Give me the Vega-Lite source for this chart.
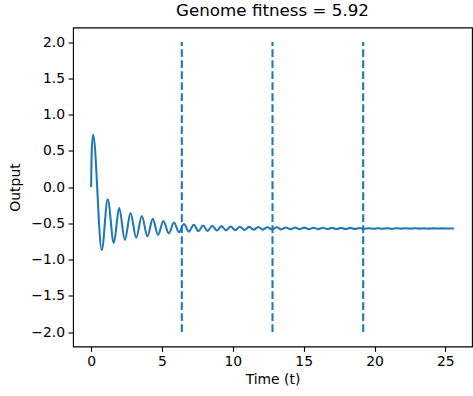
{
  "$schema": "https://vega.github.io/schema/vega-lite/v6.json",
  "autosize": "none",
  "width": 399,
  "height": 319,
  "padding": {"left": 73, "top": 27.5, "right": 1, "bottom": 49.5},
  "background": "white",
  "config": {
    "font": "DejaVu Sans",
    "view": {"stroke": "black", "strokeWidth": 1.1},
    "axis": {
      "domain": false,
      "grid": false,
      "tickColor": "black",
      "tickSize": 4.9,
      "tickWidth": 1.1,
      "labelColor": "black",
      "labelFont": "DejaVu Sans",
      "labelFontSize": 13.9,
      "labelPadding": 3.5,
      "labelOverlap": false,
      "labelFlush": false,
      "titleFont": "DejaVu Sans",
      "titleFontSize": 13.9,
      "titleFontWeight": "normal",
      "titleColor": "black"
    }
  },
  "title": {
    "text": "Genome fitness = 5.92",
    "font": "DejaVu Sans",
    "fontSize": 16.7,
    "fontWeight": "normal",
    "color": "black",
    "offset": 8,
    "anchor": "middle"
  },
  "datasets": {
    "series": [
      {"t": 0, "y": 0},
      {"t": 0.04, "y": 0.48},
      {"t": 0.14, "y": 0.72},
      {"t": 0.75, "y": -0.87},
      {"t": 1.17, "y": -0.17},
      {"t": 1.6, "y": -0.77},
      {"t": 1.98, "y": -0.29},
      {"t": 2.38, "y": -0.73},
      {"t": 2.78, "y": -0.36},
      {"t": 3.18, "y": -0.70},
      {"t": 3.58, "y": -0.40},
      {"t": 3.97, "y": -0.68},
      {"t": 4.35, "y": -0.44},
      {"t": 4.72, "y": -0.66},
      {"t": 5.1, "y": -0.47},
      {"t": 5.48, "y": -0.64},
      {"t": 5.85, "y": -0.49},
      {"t": 6.2, "y": -0.625},
      {"t": 6.55, "y": -0.51},
      {"t": 6.9, "y": -0.615},
      {"t": 7.25, "y": -0.52},
      {"t": 7.58, "y": -0.61},
      {"t": 7.9, "y": -0.53},
      {"t": 8.22, "y": -0.605},
      {"t": 8.55, "y": -0.535},
      {"t": 8.87, "y": -0.60},
      {"t": 9.2, "y": -0.54},
      {"t": 9.52, "y": -0.598},
      {"t": 9.85, "y": -0.545},
      {"t": 10.17, "y": -0.595},
      {"t": 10.5, "y": -0.548},
      {"t": 10.82, "y": -0.592},
      {"t": 11.15, "y": -0.55},
      {"t": 11.47, "y": -0.59},
      {"t": 11.8, "y": -0.552},
      {"t": 12.12, "y": -0.588},
      {"t": 12.45, "y": -0.554},
      {"t": 12.77, "y": -0.586},
      {"t": 13.1, "y": -0.556},
      {"t": 13.42, "y": -0.585},
      {"t": 13.75, "y": -0.558},
      {"t": 14.07, "y": -0.584},
      {"t": 14.4, "y": -0.559},
      {"t": 14.72, "y": -0.583},
      {"t": 15.05, "y": -0.56},
      {"t": 15.37, "y": -0.582},
      {"t": 15.7, "y": -0.561},
      {"t": 16.02, "y": -0.581},
      {"t": 16.35, "y": -0.562},
      {"t": 16.67, "y": -0.58},
      {"t": 17.0, "y": -0.563},
      {"t": 17.32, "y": -0.58},
      {"t": 17.65, "y": -0.564},
      {"t": 17.97, "y": -0.579},
      {"t": 18.3, "y": -0.564},
      {"t": 18.62, "y": -0.579},
      {"t": 18.95, "y": -0.565},
      {"t": 19.27, "y": -0.578},
      {"t": 19.6, "y": -0.568},
      {"t": 19.92, "y": -0.576},
      {"t": 20.25, "y": -0.569},
      {"t": 20.57, "y": -0.575},
      {"t": 20.9, "y": -0.569},
      {"t": 21.22, "y": -0.575},
      {"t": 21.55, "y": -0.57},
      {"t": 21.87, "y": -0.574},
      {"t": 22.2, "y": -0.57},
      {"t": 22.52, "y": -0.574},
      {"t": 22.85, "y": -0.57},
      {"t": 23.17, "y": -0.574},
      {"t": 23.5, "y": -0.571},
      {"t": 23.82, "y": -0.574},
      {"t": 24.15, "y": -0.571},
      {"t": 24.47, "y": -0.573},
      {"t": 24.8, "y": -0.571},
      {"t": 25.12, "y": -0.573},
      {"t": 25.45, "y": -0.572},
      {"t": 25.6, "y": -0.572}
    ],
    "vlines": [
      {"t": 6.4, "y1": -2, "y2": 2},
      {"t": 12.8, "y1": -2, "y2": 2},
      {"t": 19.2, "y1": -2, "y2": 2}
    ]
  },
  "layer": [
    {
      "data": {"name": "series"},
      "mark": {"type": "line", "color": "#1f77b4", "strokeWidth": 2.08, "interpolate": "monotone", "clip": true},
      "encoding": {
        "x": {
          "field": "t", "type": "quantitative",
          "scale": {"domain": [-1.28, 26.88], "nice": false, "zero": false},
          "axis": {"title": "Time (t)", "values": [0, 5, 10, 15, 20, 25], "format": "d", "titlePadding": 4}
        },
        "y": {
          "field": "y", "type": "quantitative",
          "scale": {"domain": [-2.2, 2.2], "nice": false, "zero": false},
          "axis": {"title": "Output", "values": [-2, -1.5, -1, -0.5, 0, 0.5, 1, 1.5, 2], "format": ".1f", "titlePadding": 8, "labelOverlap": false, "tickCount": 9}
        }
      }
    },
    {
      "data": {"name": "vlines"},
      "mark": {"type": "rule", "color": "#1f77b4", "strokeWidth": 2.08, "strokeDash": [7.7, 3.3]},
      "encoding": {
        "x": {"field": "t", "type": "quantitative", "axis": {"title": "Time (t)", "values": [0, 5, 10, 15, 20, 25], "format": "d", "titlePadding": 4}},
        "y": {"field": "y1", "type": "quantitative", "axis": {"title": "Output", "values": [-2, -1.5, -1, -0.5, 0, 0.5, 1, 1.5, 2], "format": ".1f", "titlePadding": 8, "labelOverlap": false, "tickCount": 9}},
        "y2": {"field": "y2"}
      }
    }
  ]
}
